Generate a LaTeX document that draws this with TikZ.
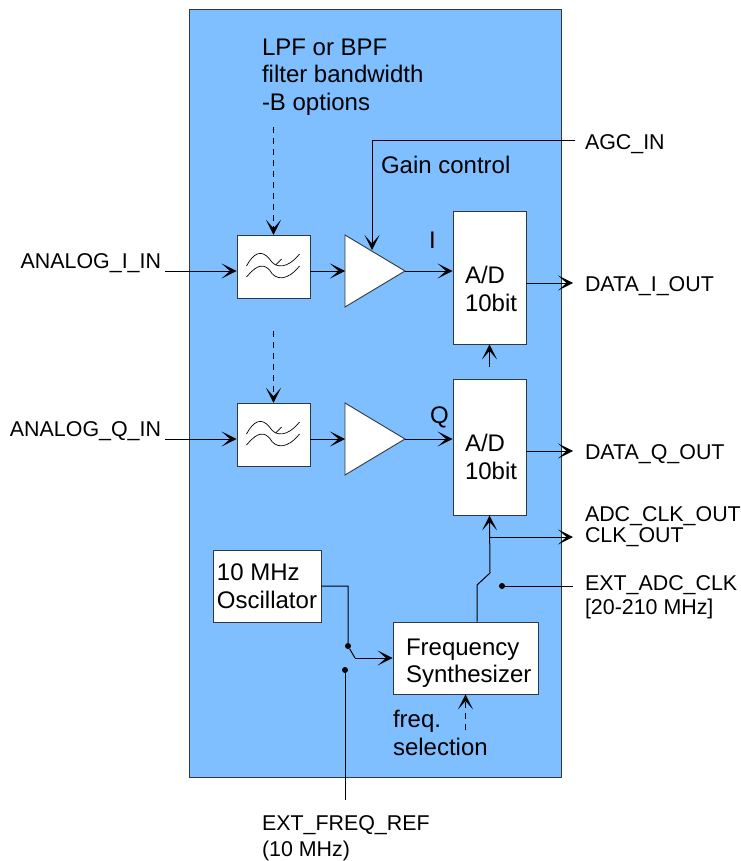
\documentclass[tikz,border=0pt]{standalone}
\usepackage{fontspec}
\setmainfont{Liberation Sans}
\usetikzlibrary{positioning, arrows.meta, calc, shapes.geometric}
\definecolor{panel}{HTML}{80BFFF}
\definecolor{rahmen}{HTML}{303840}

\begin{document}
\begin{tikzpicture}[x=1pt, y=-1pt,
      txt/.style={align=left, inner sep=0pt, outer sep=0pt, font=\fontsize{21.4}{27}\selectfont},
      innen/.style={txt, font=\fontsize{24}{27.5}\selectfont},
      block/.style={draw=rahmen, line width=0.9pt, fill=white, align=left, inner sep=0pt,
        font=\fontsize{24}{27.5}\selectfont},
      filterbox/.style={block, minimum width=73pt, minimum height=63.5pt},
      adc/.style={block, minimum width=73pt},
      amp/.style={draw=rahmen, line width=0.9pt, fill=white, isosceles triangle, isosceles triangle stretches,
        minimum width=72pt, minimum height=60pt, inner sep=0pt, outer sep=0pt},
      pfeil/.style={-{Stealth[length=15pt, width=15pt, inset=8.5pt]}, line width=1pt, black},
      strich/.style={pfeil, dash pattern=on 6pt off 5pt},
      kontakt/.style={circle, fill=black, inner sep=0pt, minimum size=6pt}]
    \useasboundingbox (0,0) rectangle (740,861);
    \node[draw=rahmen, line width=1pt, fill=panel, minimum width=372pt, minimum height=767pt, inner sep=0pt] (panel) at (375,393.5) {};
    % signal path I
    \node[filterbox] (filtI) at (273.5,267) {};
    \node[amp, anchor=west] (ampI) at (345,271) {};
    \node[adc, minimum height=133pt] (adcI) at (489.5,277.5) {};
    % signal path Q
    \node[filterbox] (filtQ) at (273.5,435) {};
    \node[amp, anchor=west] (ampQ) at (345,439) {};
    \node[adc, minimum height=136pt] (adcQ) at (489.5,447) {};
    \foreach \filt in {filtI, filtQ} {
      \begin{scope}[shift={(\filt.center)}]
        \draw[line width=0.7pt] (-27,-1) .. controls (-20,-14) and (-12,-18) .. (-4,-8) .. controls (2,2) and (14,2) .. (26,-13);
        \draw[line width=0.7pt] (-27,10) .. controls (-20,2) and (-12,-6) .. (-4,3) .. controls (2,14) and (14,14) .. (26,-1);
        \draw[line width=0.7pt] (2,-2) -- (8,-8);
      \end{scope}
    }
    \node[innen, anchor=west] at (465,289) {A/D\\10bit};
    \node[innen, anchor=west] at (465,457) {A/D\\10bit};
    \node[innen, anchor=west] at (429,240) {I};
    \node[innen, anchor=west] at (430,417) {Q};
    % clock part
    \node[block, minimum width=108pt, minimum height=72pt] (osc) at (267,586) {10 MHz\\Oscillator};
    \node[block, minimum width=145pt, minimum height=72pt] (synth) at (465.5,658) {};
    \node[innen, anchor=west] at (406,663) {Frequency\\Synthesizer};
    \node[kontakt] (oscdot) at (348,646) {};
    \node[kontakt] (refdot) at (345,670) {};
    \node[kontakt] (extdot) at (502,586) {};
    \coordinate (knick) at (355,658);
    \coordinate (swoben) at (490,573);
    \coordinate (swunten) at (477,585);
    \coordinate (gain) at (372,250);
    % labels
    \node[txt, anchor=east] (inI) at (161,263) {ANALOG\_I\_IN};
    \node[txt, anchor=east] (inQ) at (161,431) {ANALOG\_Q\_IN};
    \node[innen, anchor=west] (bw) at (262,77) {LPF or BPF\\filter bandwidth\\-B options};
    \node[txt, anchor=west] (agc) at (585,144) {AGC\_IN};
    \node[innen, anchor=west] at (381,165) {Gain control};
    \node[txt, anchor=west] (outI) at (585,286) {DATA\_I\_OUT};
    \node[txt, anchor=west] (outQ) at (585,454) {DATA\_Q\_OUT};
    \node[txt, anchor=west] (clkout) at (585,527) {ADC\_CLK\_OUT\\[-6pt]CLK\_OUT};
    \node[txt, anchor=west] (extclk) at (585,597.5) {EXT\_ADC\_CLK\\[-3pt][20-210 MHz]};
    \node[txt, anchor=north west] (extref) at (262,816) {EXT\_FREQ\_REF\\[-1pt](10 MHz)};
    \node[innen, anchor=west] (freq) at (393,733) {freq.\\selection};
    % connectors
    \draw[pfeil] (inI.east|-0,271) ++(4,0) -- ($(filtI.west)+(0,4)$);
    \draw[pfeil] (inQ.east|-0,439) ++(4,0) -- ($(filtQ.west)+(0,4)$);
    \draw[pfeil] ($(filtI.east)+(0,4)$) -- (ampI.west);
    \draw[pfeil] ($(filtQ.east)+(0,4)$) -- (ampQ.west);
    \draw[pfeil] (ampI.east) -- (adcI.west|-ampI.east);
    \draw[pfeil] (ampQ.east) -- (adcQ.west|-ampQ.east);
    \draw[pfeil] ($(agc.west)+(-10,-3)$) -| (gain);
    \draw[pfeil] (adcI.east|-0,283) -- (573,283);
    \draw[pfeil] (adcQ.east|-0,451) -- (573,451);
    \draw[strich] ($(filtI.north)+(0,-108)$) -- (filtI.north);
    \draw[strich] ($(filtQ.north)+(0,-72)$) -- (filtQ.north);
    \draw[pfeil] (adcI.south|-0,367) -- (adcI.south);
    \draw[pfeil] (swoben) -- (adcQ.south);
    \draw[pfeil] (adcQ.south|-0,537) -- (573,537);
    \draw[line width=1pt] (swoben) -- (swunten) -- (swunten|-synth.north);
    \draw[line width=1pt] (extdot) -- (573,586);
    \draw[line width=1pt] (osc.east) -| (oscdot) -- (knick);
    \draw[pfeil] (knick) -- (synth.west|-knick);
    \draw[line width=1pt] (refdot) -- (refdot|-0,800);
    \draw[strich] (synth.south|-0,730) -- (synth.south);
  \end{tikzpicture}
\end{document}
